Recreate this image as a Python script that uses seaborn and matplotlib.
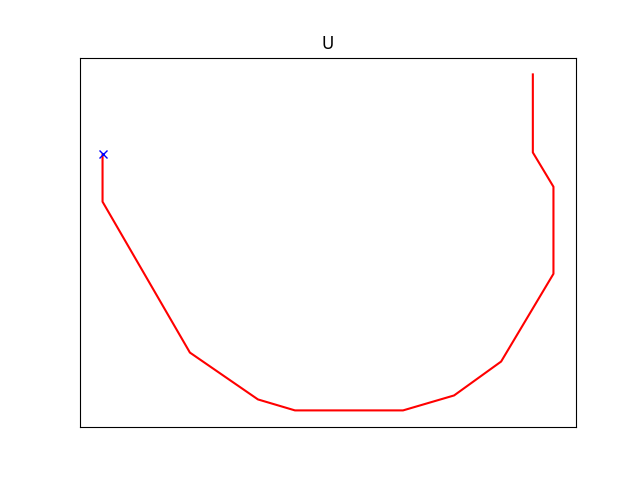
import matplotlib
matplotlib.use("Agg")
import matplotlib.pyplot as plt
import seaborn as sns
import pandas as pd

path_x = [102.7, 102.7, 190, 258, 295, 403, 454, 501, 553.3, 553.3, 532.7, 532.7]
path_y = [326.7, 279.3, 128, 81, 70, 70, 85, 119, 207, 294.3, 328.7, 407]
start_x = [102.7]
start_y = [326.7]

df = pd.DataFrame({"x": path_x, "y": path_y})

fig, ax = plt.subplots(figsize=(6.4, 4.8), dpi=100)
sns.lineplot(data=df, x="x", y="y", sort=False, estimator=None, color="red", ax=ax, linewidth=1.5)
ax.plot(start_x, start_y, marker="x", color="blue", linestyle="none")
ax.set_title("U")
ax.set_xticks([])
ax.set_yticks([])
ax.set_xlabel("")
ax.set_ylabel("")
fig.savefig("out.png", dpi=100)
